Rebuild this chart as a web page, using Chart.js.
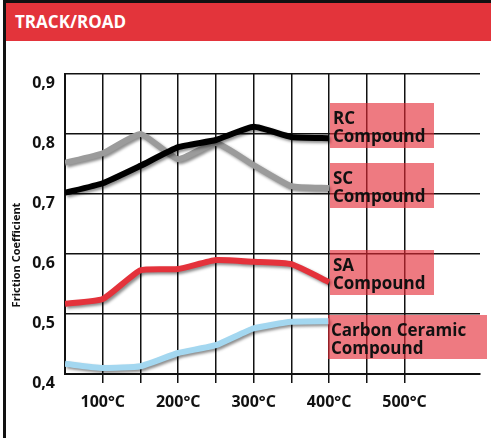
<!DOCTYPE html>
<html>
<head>
<meta charset="utf-8">
<script src="https://cdn.jsdelivr.net/npm/chart.js@4"></script>
<style>
  body { margin: 0; background: #fff; }
  #wrap { position: relative; width: 491px; height: 438px; overflow: hidden; font-family: "Open Sans", sans-serif; }
  #frame { position: absolute; left: 3px; top: 0; width: 500px; height: 500px; border-left: 3px solid #111; border-top: 3px solid #111; }
  #header { position: absolute; left: 6px; top: 3px; width: 485px; height: 38px; background: #e3343b; color: #fff;
            font-weight: bold; font-size: 17px; line-height: 38px; padding-left: 9px; box-sizing: border-box; }
  #chart { position: absolute; left: 0; top: 0; }
</style>
</head>
<body>
<div id="wrap">
  <div id="frame"></div>
  <div id="header">TRACK/ROAD</div>
  <canvas id="chart" width="491" height="438"></canvas>
</div>
<script>
// temperatures (°C) where the curves are read
const temps = [50, 100, 150, 200, 250, 300, 350, 400];
// friction coefficient per compound
const rcValues = [0.702, 0.718, 0.747, 0.778, 0.790, 0.812, 0.795, 0.793];
const scValues = [0.752, 0.768, 0.800, 0.758, 0.785, 0.748, 0.713, 0.710];
const saValues = [0.517, 0.525, 0.573, 0.575, 0.590, 0.587, 0.583, 0.553];
const ccValues = [0.417, 0.410, 0.413, 0.435, 0.448, 0.476, 0.487, 0.488];
const seriesNames = ['RC Compound', 'SC Compound', 'SA Compound', 'Carbon Ceramic Compound'];
const labelLines = [['RC', 'Compound'], ['SC', 'Compound'], ['SA', 'Compound'], ['Carbon Ceramic', 'Compound']];
const yTitle = 'Friction Coefficient';

const toPoints = vals => temps.map((t, i) => ({ x: t, y: vals[i] }));
const lineColors = ['#000000', '#9b9b9b', '#e4323b', '#a3d7f0'];

// label boxes (pixel positions)
const boxes = [
    { x: 330, y: 103, w: 104, h: 45 },
    { x: 330, y: 163, w: 104, h: 45 },
    { x: 330, y: 250, w: 104, h: 45 },
    { x: 328, y: 315, w: 159, h: 44 }
];

const shadowPlugin = {
    id: 'lineShadow',
    beforeDatasetDraw(chart) {
        const ctx = chart.ctx;
        ctx.save();
        ctx.shadowColor = 'rgba(0,0,0,0.45)';
        ctx.shadowBlur = 3;
        ctx.shadowOffsetX = 2;
        ctx.shadowOffsetY = 2;
    },
    afterDatasetDraw(chart) { chart.ctx.restore(); }
};

const labelPlugin = {
    id: 'seriesLabels',
    afterDraw(chart) {
        const ctx = chart.ctx;
        ctx.save();
        boxes.forEach((b, i) => {
            ctx.fillStyle = 'rgba(228, 40, 52, 0.62)';
            ctx.fillRect(b.x, b.y, b.w, b.h);
            ctx.fillStyle = '#111';
            ctx.font = 'bold 17px "Open Sans"';
            ctx.textBaseline = 'alphabetic';
            ctx.textAlign = 'left';
            ctx.fillText(labelLines[i][0], b.x + 3, b.y + 21);
            ctx.fillText(labelLines[i][1], b.x + 3, b.y + 39);
        });
        // y axis title
        ctx.translate(17, 255);
        ctx.rotate(-Math.PI / 2);
        ctx.font = 'bold 11px "Open Sans"';
        ctx.textAlign = 'center';
        ctx.textBaseline = 'middle';
        ctx.fillText(yTitle, 0, 0);
        ctx.restore();
    }
};

const tickFont = { family: 'Open Sans', size: 16, weight: 'bold' };

new Chart(document.getElementById('chart'), {
    type: 'line',
    data: {
        datasets: [rcValues, scValues, saValues, ccValues].map((vals, i) => ({
            label: seriesNames[i],
            data: toPoints(vals),
            borderColor: lineColors[i],
            borderWidth: 6,
            pointRadius: 0,
            tension: 0.15,
            fill: false
        }))
    },
    options: {
        responsive: false,
        animation: false,
        layout: { padding: { top: 74, right: 11, left: 0, bottom: 0 } },
        plugins: { legend: { display: false }, tooltip: { enabled: false } },
        scales: {
            x: {
                type: 'linear', min: 50, max: 600,
                afterFit: s => { s.height = 64; },
                ticks: {
                    stepSize: 50, autoSkip: false, maxRotation: 0, padding: 10,
                    color: '#111', font: tickFont,
                    callback: v => (v % 100 === 0 && v <= 500) ? v + '°C' : ''
                },
                grid: {
                    lineWidth: 1.5, tickLength: 9,
                    color: c => (c.tick && c.tick.value > 500) ? 'rgba(0,0,0,0)' : '#111',
                    tickColor: c => (c.tick && (c.tick.value > 500 || c.tick.value === 50)) ? 'rgba(0,0,0,0)' : '#111'
                },
                border: { color: '#111', width: 2 }
            },
            y: {
                min: 0.4, max: 0.9,
                afterFit: s => { s.width = 65; },
                ticks: {
                    stepSize: 0.1, padding: 10, labelOffset: 9,
                    color: '#111', font: tickFont,
                    callback: v => v.toFixed(1).replace('.', ',')
                },
                grid: { color: '#111', lineWidth: 1.5, drawTicks: false },
                border: { color: '#111', width: 2 }
            }
        }
    },
    plugins: [shadowPlugin, labelPlugin]
});
</script>
</body>
</html>
